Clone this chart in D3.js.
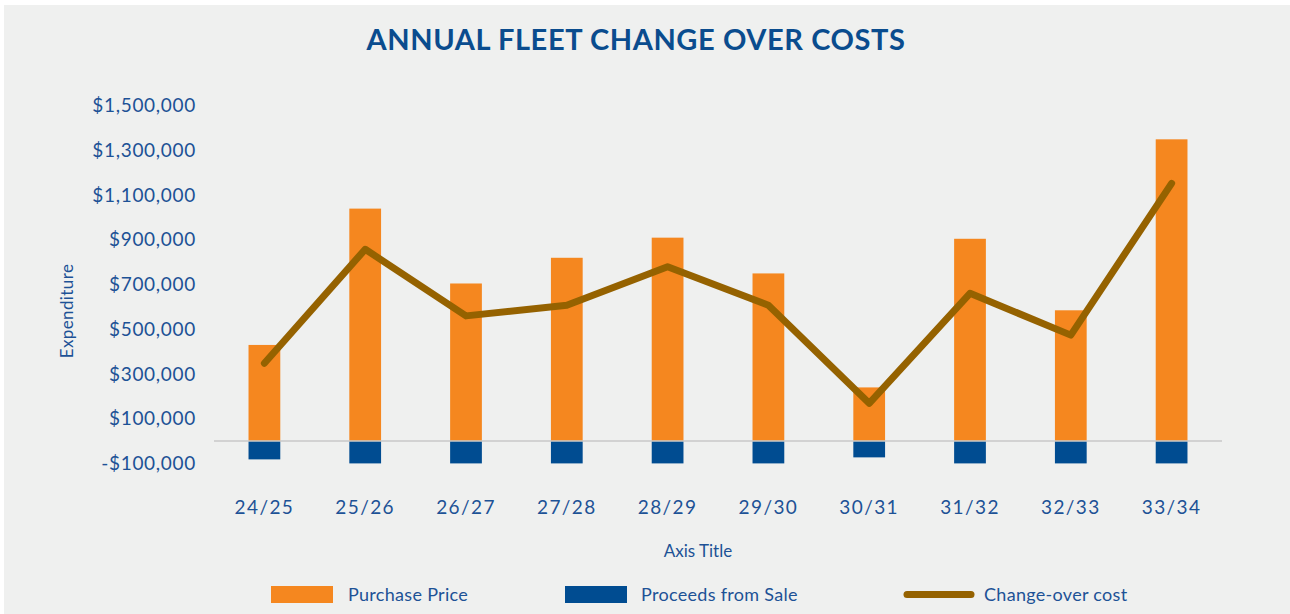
<!DOCTYPE html>
<html>
<head>
<meta charset="utf-8">
<script src="https://cdn.jsdelivr.net/npm/d3@7"></script>
<style>
  body{margin:0;background:#fff;}
  svg{display:block;}
  text{font-family:"Lato","Open Sans",sans-serif;}
</style>
</head>
<body>
<div id="chart"></div>
<script>
// data
var years = ["24/25","25/26","26/27","27/28","28/29","29/30","30/31","31/32","32/33","33/34"];
var purchasePrice = [430000,1040000,705000,820000,910000,750000,240000,905000,585000,1350000];
var proceedsFromSale = [-82000,-100000,-100000,-100000,-100000,-100000,-73000,-100000,-100000,-100000];
var changeOverCost = [348000,858000,560000,608000,780000,608000,169000,661000,474000,1153000];
var yTicks = [-100000,100000,300000,500000,700000,900000,1100000,1300000,1500000];
var legendItems = ["Purchase Price","Proceeds from Sale","Change-over cost"];

var width = 1290, height = 614;
var orange = "#f5871f", blue = "#004c91", brown = "#956200", txt = "#1d5296";

var svg = d3.select("#chart").append("svg")
    .attr("width",width).attr("height",height);

svg.append("rect")
    .attr("x",4).attr("y",5)
    .attr("width",width-4).attr("height",height-5)
    .attr("fill","#eff0ef");

svg.append("text")
    .attr("x",636).attr("y",50)
    .attr("text-anchor","middle")
    .attr("font-size","29px")
    .attr("font-weight","bold")
    .attr("letter-spacing","0.6px")
    .attr("fill","#0a4c8e")
    .text("ANNUAL FLEET CHANGE OVER COSTS");

var x = d3.scaleBand().domain(years).range([214,1222]).padding(0);
var y = d3.scaleLinear().domain([-100000,1500000]).range([463.4,105.8]);
var barW = x.bandwidth()*0.315;

// y axis labels
var yAxis = d3.axisLeft(y).tickValues(yTicks).tickSize(0).tickPadding(0)
    .tickFormat(function(d){
        return (d<0?"-$":"$")+d3.format(",")(Math.abs(d));
    });
var ya = svg.append("g").attr("transform","translate(196,0)").call(yAxis);
ya.select(".domain").remove();
ya.selectAll("text")
    .attr("font-size","19px")
    .attr("letter-spacing","0.7px")
    .attr("fill",txt)
    .attr("font-family","Lato, sans-serif");

svg.append("text")
    .attr("transform","translate(73,311) rotate(-90)")
    .attr("text-anchor","middle")
    .attr("font-size","17px")
    .attr("letter-spacing","0.4px")
    .attr("fill",txt)
    .text("Expenditure");

// bars
svg.selectAll("rect.purchase")
    .data(purchasePrice).enter().append("rect")
    .attr("class","purchase")
    .attr("x",function(d,i){return x(years[i])+x.bandwidth()/2-barW/2;})
    .attr("y",function(d){return y(d);})
    .attr("width",barW)
    .attr("height",function(d){return y(0)-y(d);})
    .attr("fill",orange);

svg.selectAll("rect.proceeds")
    .data(proceedsFromSale).enter().append("rect")
    .attr("class","proceeds")
    .attr("x",function(d,i){return x(years[i])+x.bandwidth()/2-barW/2;})
    .attr("y",y(0))
    .attr("width",barW)
    .attr("height",function(d){return y(d)-y(0);})
    .attr("fill",blue);

// zero line
svg.append("line")
    .attr("x1",214).attr("x2",1222)
    .attr("y1",y(0)).attr("y2",y(0))
    .attr("stroke","#c8c9c9").attr("stroke-width",1.5);

// line
var line = d3.line()
    .x(function(d,i){return x(years[i])+x.bandwidth()/2;})
    .y(function(d){return y(d);});
svg.append("path")
    .datum(changeOverCost)
    .attr("d",line)
    .attr("fill","none")
    .attr("stroke",brown)
    .attr("stroke-width",7)
    .attr("stroke-linecap","round")
    .attr("stroke-linejoin","round");

// x axis labels
var xAxis = d3.axisBottom(x).tickSize(0).tickPadding(0);
var xa = svg.append("g").attr("transform","translate(0,500)").call(xAxis);
xa.select(".domain").remove();
xa.selectAll("text")
    .attr("font-size","19px")
    .attr("letter-spacing","1.4px")
    .attr("fill",txt)
    .attr("font-family","Lato, sans-serif");

svg.append("text")
    .attr("x",698).attr("y",557)
    .attr("text-anchor","middle")
    .attr("font-size","17px")
    .attr("fill",txt)
    .text("Axis Title");

// legend
var lg = svg.append("g");
var lx = [271,565,904];
lg.append("rect").attr("x",lx[0]).attr("y",586).attr("width",62).attr("height",17).attr("fill",orange);
lg.append("rect").attr("x",lx[1]).attr("y",586).attr("width",62).attr("height",17).attr("fill",blue);
lg.append("line").attr("x1",lx[2]+3).attr("x2",lx[2]+67).attr("y1",594.5).attr("y2",594.5)
    .attr("stroke",brown).attr("stroke-width",7).attr("stroke-linecap","round");
var tx = [348,641,984];
lg.selectAll("text.leg").data(legendItems).enter().append("text")
    .attr("class","leg")
    .attr("x",function(d,i){return tx[i];})
    .attr("y",601)
    .attr("font-size","18px")
    .attr("letter-spacing","0.3px")
    .attr("fill",txt)
    .text(function(d){return d;});
</script>
</body>
</html>
